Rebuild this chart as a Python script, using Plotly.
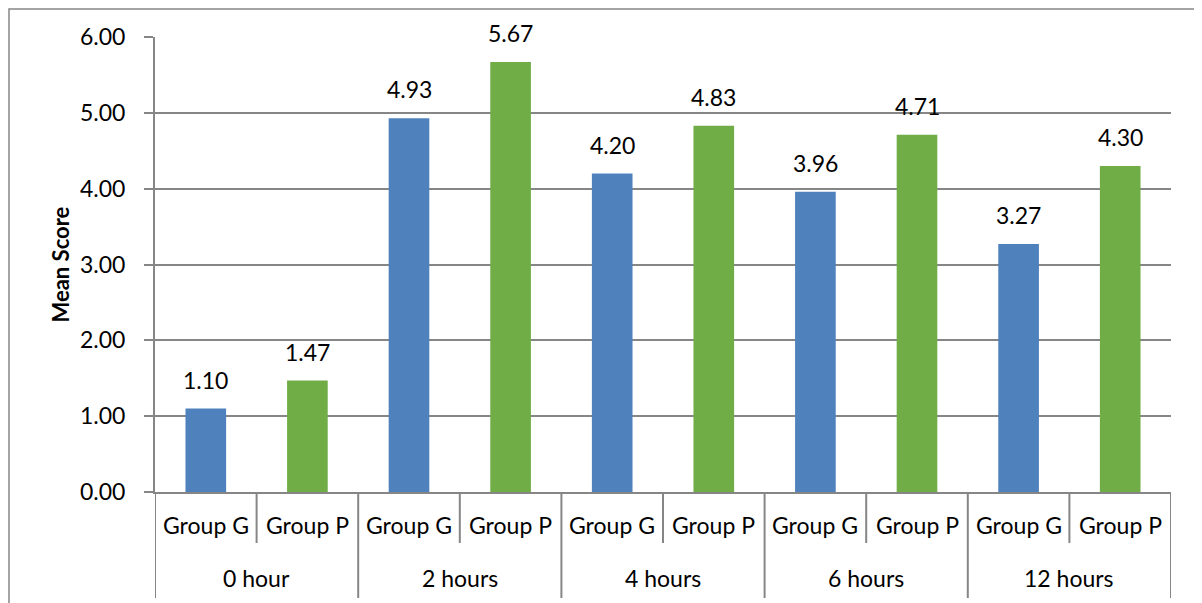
import plotly.graph_objects as go

times = ["0 hour", "2 hours", "4 hours", "6 hours", "12 hours"]
groups = ["Group G", "Group P"]
group_g = [1.10, 4.93, 4.20, 3.96, 3.27]
group_p = [1.47, 5.67, 4.83, 4.71, 4.30]

colors = {"Group G": "#4F81BD", "Group P": "#70AD47"}
line_gray = "#868686"
font_name = "Lato, Open Sans, sans-serif"
fsize = 23

cats, vals, cols = [], [], []
for t, g, p in zip(times, group_g, group_p):
    for grp, v in zip(groups, [g, p]):
        cats.append(t + " | " + grp)
        vals.append(v)
        cols.append(colors[grp])

fig = go.Figure()
fig.add_trace(go.Bar(x=cats, y=vals, marker_color=cols, marker_line_width=0,
                     showlegend=False, hoverinfo="x+y"))

annotations = []
# value labels above the bars
for c, v in zip(cats, vals):
    annotations.append(dict(x=c, y=v, text=f"{v:.2f}", showarrow=False,
                            yanchor="bottom", yshift=13,
                            font=dict(size=fsize, color="black", family=font_name)))
# group labels (inner level)
for c in cats:
    annotations.append(dict(x=c, y=-0.072, xref="x", yref="paper", yanchor="middle",
                            text=c.split(" | ")[1], showarrow=False,
                            font=dict(size=fsize, color="black", family=font_name)))
# time labels (outer level)
for i, t in enumerate(times):
    annotations.append(dict(x=2 * i + 0.5, y=-0.189, xref="x", yref="paper",
                            yanchor="middle", text=t, showarrow=False,
                            font=dict(size=fsize, color="black", family=font_name)))
# y axis title
annotations.append(dict(x=0, y=0.5, xref="paper", yref="paper", xshift=-95,
                        xanchor="center", yanchor="middle",
                        text="<b>Mean Score</b>", textangle=-90, showarrow=False,
                        font=dict(size=22, color="black", family=font_name)))

shapes = []
n = len(cats)
for k in range(n + 1):
    long_line = k % 2 == 0
    shapes.append(dict(type="line", xref="x", yref="paper",
                       x0=k - 0.5, x1=k - 0.5, y0=0,
                       y1=-0.233 if long_line else -0.112,
                       line=dict(color=line_gray, width=2)))
# outer chart border
shapes.append(dict(type="rect", xref="paper", yref="paper",
                   x0=-0.1437, x1=1.0276, y0=-0.3, y1=1.0615,
                   line=dict(color=line_gray, width=1.5)))

# page body has an 8px margin, so the figure is drawn 8px smaller
fig.update_layout(
    width=1194, height=595,
    margin=dict(l=147, r=31, t=29, b=111),
    paper_bgcolor="white", plot_bgcolor="white",
    bargap=0.6,
    font=dict(family=font_name, size=fsize, color="black"),
    annotations=annotations,
    shapes=shapes,
)
fig.update_xaxes(type="category", showticklabels=False, showgrid=False,
                 showline=True, linecolor=line_gray, linewidth=2,
                 ticks="", range=[-0.5, n - 0.5])
fig.update_yaxes(range=[0, 6], dtick=1, tickformat=".2f", showgrid=True,
                 gridcolor=line_gray, gridwidth=1.5, showline=True,
                 linecolor=line_gray, linewidth=2, ticks="outside", ticklen=9,
                 tickcolor=line_gray, tickwidth=1.5, ticklabelstandoff=14,
                 tickfont=dict(size=fsize, color="black", family=font_name),
                 zeroline=False)

fig.write_html("out.html")
